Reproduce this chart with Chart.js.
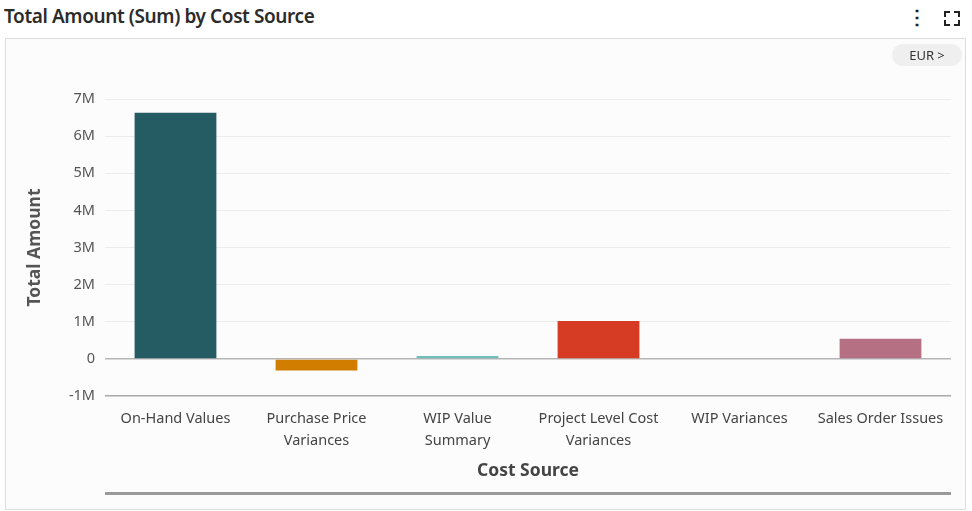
<!DOCTYPE html>
<html>
<head>
<meta charset="utf-8">
<script src="https://cdn.jsdelivr.net/npm/chart.js@4"></script>
<style>
  body { margin: 0; background: #fff; font-family: "Noto Sans", sans-serif; }
  #title { position: absolute; left: 4px; top: 3px; font-size: 19px; font-weight: 600; color: #2b2b2b; letter-spacing: -0.4px; }
  #menu { position: absolute; left: 907px; top: 3px; font-size: 20px; font-weight: bold; color: #222; }
  .corner { position: absolute; width: 4px; height: 4px; border-color: #222; border-style: solid; border-width: 0; }
  #frame { position: absolute; left: 5px; top: 38px; width: 959px; height: 470px; border: 1px solid #ddd; background: #fcfcfc; }
  #eur { position: absolute; left: 886px; top: 5px; width: 70px; height: 22px; line-height: 22px; border-radius: 11px; background: #efefef; font-size: 13px; color: #333; text-align: center; }
  #wrap { position: absolute; left: 0; top: 0; width: 960px; height: 470px; }
  #slider { position: absolute; left: 99px; top: 453px; width: 846px; height: 3px; background: #9a9a9a; }
</style>
</head>
<body>
<div id="title">Total Amount (Sum) by Cost Source</div>
<div id="menu">&#8942;</div>
<div class="corner" style="left:944px;top:11px;border-top-width:2px;border-left-width:2px"></div>
<div class="corner" style="left:954px;top:11px;border-top-width:2px;border-right-width:2px"></div>
<div class="corner" style="left:944px;top:20px;border-bottom-width:2px;border-left-width:2px"></div>
<div class="corner" style="left:954px;top:20px;border-bottom-width:2px;border-right-width:2px"></div>
<div id="frame">
  <div id="wrap"><canvas id="chart"></canvas></div>
  <div id="eur">EUR &gt;</div>
  <div id="slider"></div>
</div>
<script>
const categories = [
  'On-Hand Values',
  ['Purchase Price', 'Variances'],
  ['WIP Value', 'Summary'],
  ['Project Level Cost', 'Variances'],
  'WIP Variances',
  'Sales Order Issues'
];
const totalAmount = [6630000, -310000, 80000, 1020000, 0, 540000];
const barColors = ['#255b62', '#d07d00', '#70bebe', '#d63c24', '#888888', '#b57183'];
const yTicks = [-1000000, 0, 1000000, 2000000, 3000000, 4000000, 5000000, 6000000, 7000000];

const labelFont = { family: '"Noto Sans", sans-serif', size: 14.5, lineHeight: 1.5 };
const titleFont = { family: '"Noto Sans", sans-serif', size: 17.5, weight: 'bold' };

new Chart(document.getElementById('chart').getContext('2d'), {
  type: 'bar',
  data: {
    labels: categories,
    datasets: [{
      label: 'Total Amount',
      data: totalAmount,
      backgroundColor: barColors,
      borderWidth: 0,
      categoryPercentage: 1,
      barPercentage: 0.58
    }]
  },
  options: {
    responsive: true,
    maintainAspectRatio: false,
    animation: false,
    layout: { padding: { left: 5, right: 15, top: 60, bottom: 23 } },
    plugins: { legend: { display: false }, tooltip: { enabled: false } },
    scales: {
      x: {
        grid: { display: false },
        border: { display: false },
        ticks: { color: '#444', font: labelFont, padding: 4, maxRotation: 0, autoSkip: false },
        title: { display: true, text: 'Cost Source', color: '#444', font: titleFont, padding: { top: 8 } },
        afterFit: s => { s.height = 90; }
      },
      y: {
        min: -1000000,
        max: 7000000,
        afterBuildTicks: s => { s.ticks = yTicks.map(v => ({ value: v })); },
        grid: {
          drawTicks: false,
          color: c => c.tick && c.tick.value === 0 ? '#b5b5b5' : (c.tick && c.tick.value === -1000000 ? '#a8a8a8' : '#ececec'),
          lineWidth: c => c.tick && (c.tick.value === 0 || c.tick.value === -1000000) ? 1.5 : 1
        },
        border: { display: false },
        ticks: {
          color: '#555', font: { family: '"Noto Sans", sans-serif', size: 14.5 }, padding: 10,
          callback: v => v === 0 ? '0' : (v / 1000000) + 'M'
        },
        title: { display: true, text: 'Total Amount', color: '#555', font: titleFont, padding: { top: 14, bottom: 0 } },
        afterFit: s => { s.width = 94; }
      }
    }
  }
});
</script>
</body>
</html>
